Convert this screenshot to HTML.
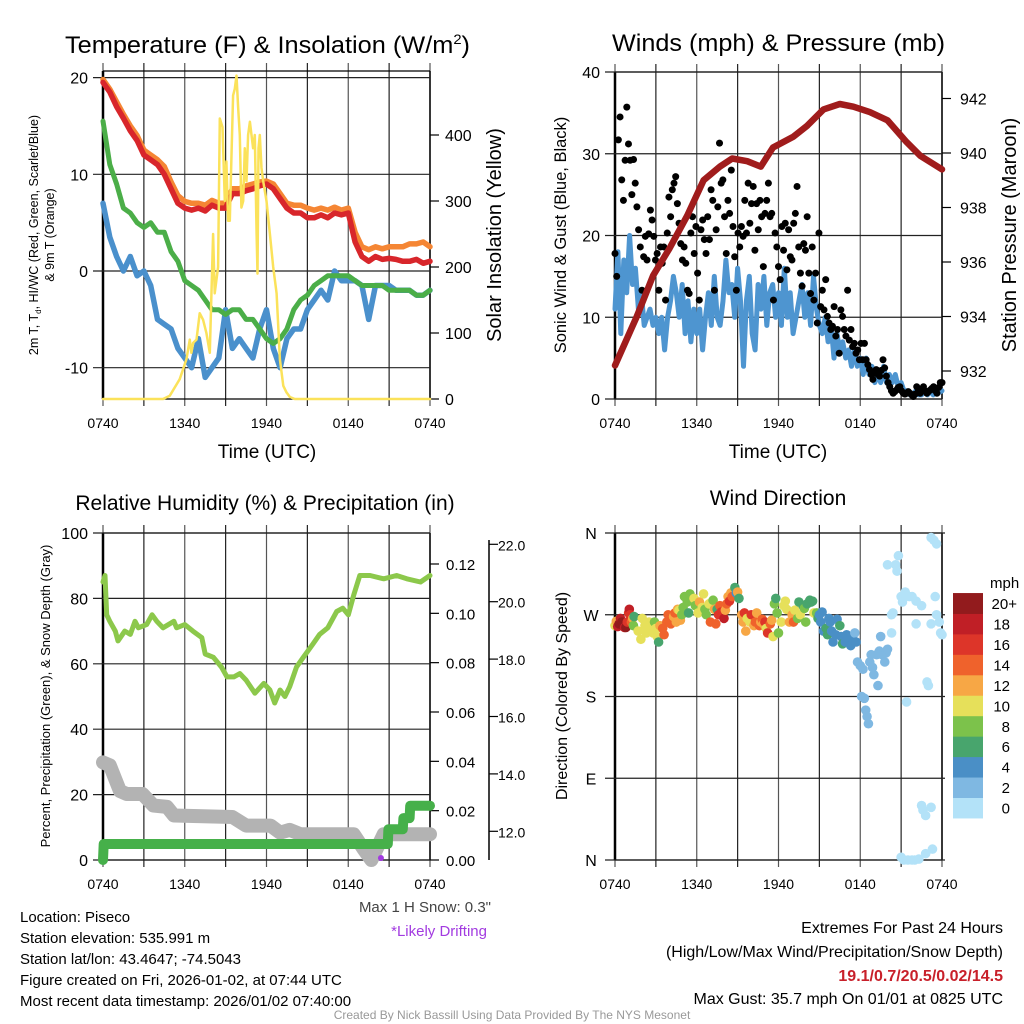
<!DOCTYPE html>
<html><head><meta charset="utf-8"><style>
html,body{margin:0;padding:0;background:#fff}
svg{display:block;font-family:"Liberation Sans",sans-serif}
</style></head><body>
<svg id="chart" xmlns="http://www.w3.org/2000/svg" width="1024" height="1024" viewBox="0 0 1024 1024">
<rect width="1024" height="1024" fill="#fff"/>
<g id="layer"></g>
<text x="65" y="53" font-size="24" textLength="405" lengthAdjust="spacingAndGlyphs">Temperature (F) &amp; Insolation (W/m<tspan font-size="14" dy="-9">2</tspan><tspan dy="9">)</tspan></text>
<text x="612" y="51" font-size="24" textLength="333" lengthAdjust="spacingAndGlyphs">Winds (mph) &amp; Pressure (mb)</text>
<text x="265" y="510" font-size="21" text-anchor="middle">Relative Humidity (%) &amp; Precipitation (in)</text>
<text x="778" y="505" font-size="21" text-anchor="middle">Wind Direction</text>
<text x="267" y="458" font-size="19" text-anchor="middle">Time (UTC)</text>
<text x="778" y="458" font-size="19" text-anchor="middle">Time (UTC)</text>
<text transform="translate(38,235) rotate(-90)" font-size="12.5" text-anchor="middle">2m T, T<tspan font-size="8" dy="3">d</tspan><tspan dy="-3">, HI/WC (Red, Green, Scarlet/Blue)</tspan></text>
<text transform="translate(54,235) rotate(-90)" font-size="12.5" text-anchor="middle">&amp; 9m T (Orange)</text>
<text transform="translate(501,235) rotate(-90)" font-size="20" text-anchor="middle">Solar Insolation (Yellow)</text>
<text transform="translate(566,235) rotate(-90)" font-size="16.5" text-anchor="middle">Sonic Wind &amp; Gust (Blue, Black)</text>
<text transform="translate(1016,235) rotate(-90)" font-size="20" text-anchor="middle">Station Pressure (Maroon)</text>
<text transform="translate(50,696) rotate(-90)" font-size="13" text-anchor="middle">Percent, Precipitation (Green), &amp; Snow Depth (Gray)</text>
<text transform="translate(567,696) rotate(-90)" font-size="16" text-anchor="middle">Direction (Colored By Speed)</text>
<text x="990" y="588" font-size="15">mph</text>
<text x="491" y="912" font-size="15" fill="#444" text-anchor="end">Max 1 H Snow: 0.3"</text>
<text x="487" y="936" font-size="15" fill="#a23be0" text-anchor="end">*Likely Drifting</text>
<g font-size="15">
<text x="20" y="922">Location: Piseco</text>
<text x="20" y="943">Station elevation: 535.991 m</text>
<text x="20" y="964">Station lat/lon: 43.4647; -74.5043</text>
<text x="20" y="985">Figure created on Fri, 2026-01-02, at 07:44 UTC</text>
<text x="20" y="1006">Most recent data timestamp: 2026/01/02 07:40:00</text>
</g>
<g font-size="16" text-anchor="end">
<text x="1003" y="933">Extremes For Past 24 Hours</text>
<text x="1003" y="957">(High/Low/Max Wind/Precipitation/Snow Depth)</text>
<text x="1003" y="981" fill="#c8202a" font-weight="bold">19.1/0.7/20.5/0.02/14.5</text>
<text x="1003" y="1004">Max Gust: 35.7 mph On 01/01 at 0825 UTC</text>
</g>
<text x="512" y="1019" font-size="12" fill="#999" text-anchor="middle">Created By Nick Bassill Using Data Provided By The NYS Mesonet</text>
</svg>
<script>
// ===== Panel 1: temperature (values every 30 min from 0740) =====
const tempRed = [19.5,18.5,17,15.8,14.5,13.5,12,11.5,11,10,8.5,7,6.5,6.3,6.5,6.2,6.8,6.5,6.5,8,8,8.3,8.5,8.8,9,8.5,7.5,6.5,6,6,5.5,5.5,5.8,5.5,6,5.8,6,3,1.5,1,1.5,1.2,1.3,1.2,1,1,1.2,0.8,1];
const temp9m = [19.8,18.8,17.5,16.2,15,14,12.5,12,11.5,10.8,9.2,7.8,7.2,7,7,6.8,7.3,7,7,8.5,8.5,8.8,9,9.2,9.3,9,8,7,6.8,6.8,6.5,6.3,6.5,6.3,6.6,6.3,6.5,4,2.5,2.2,2.5,2.3,2.5,2.5,2.5,2.8,2.8,3,2.5];
const dewBlue = [7,3.5,1.5,0,1.5,-0.5,0,-1.5,-5,-5.5,-6,-8,-9,-10,-7,-11,-10,-9,-4,-8,-7,-8,-9,-6,-4,-8,-10,-7,-6,-6,-4,-3,-2,-3,0,-1,-1,-1,-1.5,-5,-1.5,-1.5,-1.5,-2,-2,-2,-2.5,-2.5,-2];
const hiwcGreen = [15.5,11,9,6.5,6,5,4.5,5,4,4,2,1,-1,-1.5,-2,-3,-4,-4,-4.5,-4,-4,-5,-5,-6,-7,-7.5,-7,-6,-4,-3,-2.5,-1.5,-1,-0.5,-0.5,-0.5,-0.5,-1,-1.5,-1.5,-1.5,-1.5,-2,-2,-2,-2,-2.5,-2.5,-2];
const solarHours = [0,4.41,4.9,5.63,6.12,6.37,6.49,6.61,6.86,7.1,7.35,7.59,7.84,8.08,8.2,8.45,8.57,8.77,8.94,9.06,9.18,9.31,9.43,9.55,9.67,9.8,9.92,10.04,10.16,10.29,10.41,10.53,10.65,10.78,10.9,11.02,11.14,11.27,11.34,11.41,11.51,11.63,11.76,12.0,12.25,12.49,12.74,12.98,13.23,13.47,13.72,14.08,24];
const solarValues = [0,0,5,30,60,90,70,85,90,130,120,100,70,250,160,200,425,412,300,360,270,270,370,460,470,490,440,400,290,300,380,330,400,420,400,380,400,250,190,380,400,350,330,300,250,200,160,60,20,10,3,0,0];
const tempTicks = [20,10,0,-10];
const solarTicks = [0,100,200,300,400];
const timeLabels = ['0740','1340','1940','0140','0740'];
// ===== Panel 2: winds =====
const windSonic = [11,18,8,17,13,20,14,16,11,13,9,10,11,9,10,8,10,6,10,12,15,13,10,14,8,12,7,11,8,11,6,10,13,9,15,10,9,12,17,13,14,10,16,12,4,12,15,8,6,14,11,15,9,13,14,10,13,9,16,10,13,8,10,12,14,10,13,9,15,11,9,8,10,7,9,5,8,6,7,5,6,4,6,4,5,3,5,3,4,2,3,2,4,2,3,2,3,1.5,2,1,1,0.5,0.5,1,0.5,0.5,1,0.5,1,0.5,1,0.8,1];
const windGust = [17.8,15,31.7,34.5,26.8,24.3,29.2,35.7,31.2,29.2,25,29.3,26.4,23.5,20.7,18.6,13.3,17.4,19.9,17,20.2,23.1,21.9,19.9,17,17.8,13.3,18.6,16.6,18.6,12.1,20.3,24.7,22.3,25.6,26.4,27.2,23.9,21.5,19,17,18.6,16.6,13.3,12.9,20.3,22.3,17.8,21.1,15.4,12.1,20.7,21.9,19.5,17.8,22.3,19.5,25.6,24.3,13.3,20.7,23.5,31.3,26.4,26.8,22.3,17.8,24.3,22.7,28,21.1,17.4,13.3,20.3,18.6,21.1,19.9,24.3,20.3,26.4,21.5,23.9,26,18.2,23.9,20.7,24.3,22.3,16.2,22.7,24.3,26.4,22.3,22.7,12.1,20.3,18.6,16.2,14.6,21.1,18.2,21.5,15.8,20.7,17.4,17,21.5,22.7,26,18.6,15.4,13.8,19,18.2,22.3,15.4,12.9,18.6,12.1,15.4,9.3,20.3,11.3,13.3,10.9,14.6,10.1,9.3,8.5,8.9,11.3,7.7,8.5,5.6,10.9,10.1,8.5,7.7,13.3,7.2,8.5,6.4,6.8,5.6,6,4.8,6.8,4.8,6.8,4.8,4.2,3.6,3.0,2.4,3.2,3.6,3.0,2.8,3.5,4.8,3.8,2.8,2.0,1.5,1.0,0.7,0.9,1.1,1.4,1.5,1.0,0.7,0.6,0.7,0.9,0.7,0.5,0.3,0.6,1.5,1.0,0.7,1.2,1.5,1.0,0.7,0.9,1.1,1.3,1.5,1.0,0.7,1.4,2,2];
const pressHours = [0,1.6,2.8,4,5.3,6.5,7.7,8.6,9.7,10.7,11.6,13.1,14.1,15.3,16.5,17.5,18.7,20,21.4,22.4,24];
const pressValues = [932.2,934,935.5,936.5,937.7,939,939.5,939.8,939.7,939.5,940.2,940.6,941,941.6,941.8,941.7,941.5,941.2,940.4,939.9,939.4];
const windTicks = [0,10,20,30,40];
const pressTicks = [932,934,936,938,940,942];
// ===== Panel 3: humidity / precip / snow =====
const rhHours = [0,0.15,0.27,0.5,0.9,1.1,1.6,2,2.35,2.6,3.2,3.6,3.95,4.4,5.2,5.4,6,6.6,7.25,7.5,8.1,8.7,9.1,9.6,10.05,10.5,11.15,11.8,12.25,12.6,13,13.35,13.7,14.2,14.7,15.4,15.9,16.5,17.15,17.6,18,18.4,18.85,19.6,20.6,21.55,22.3,23.3,24];
const rhValues = [85,87,75,73,70,67,70,69,73,71,72,75,73,71,73,71,72,70,68,63,62,59,56,56,57,55,51,54,52,48,52,50,53,59,62,66,69,71,76,77,75,81,87,87,86,87,86,85,87];
const precipHours = [0,0.05,20.9,20.95,22,22.05,22.5,22.55,24];
const precipValues = [0,0.0065,0.0065,0.0125,0.0125,0.017,0.017,0.022,0.022];
const snowHours = [0,0.5,1.25,1.75,2.9,3.7,4.7,5.2,9.5,10.5,12.3,13,13.7,14.5,18.4,19.1,19.7,20.2,20.6,24];
const snowValues = [14.4,14.3,13.4,13.3,13.3,12.9,12.85,12.55,12.5,12.2,12.2,11.95,12.05,11.9,11.9,11.4,11.0,11.5,11.9,11.9];
const pctTicks = [0,20,40,60,80,100];
const precipTicks = [0,0.02,0.04,0.06,0.08,0.10,0.12];
const snowTicks = [12,14,16,18,20,22];
// ===== Panel 4: wind direction =====
const dirHours = [0,0.1,0.2,0.3,0.4,0.5,0.6,0.7,0.8,0.9,1,1.05,1.1,1.2,1.3,1.35,1.4,1.7,1.9,2,2.2,2.3,2.5,2.6,2.8,2.9,3,3.1,3.2,3.3,3.5,3.6,3.8,3.9,4,4.1,4.3,4.4,4.5,4.6,4.7,4.8,4.9,5,5.1,5.3,5.5,5.4,5.8,5.9,6.1,6.2,6.4,6.5,6.6,6.7,6.9,7,7.2,7.3,7.4,7.5,7.6,7.7,7.8,7.9,8,8.1,8.2,8.3,8.4,8.5,8.6,8.8,8.9,9,9.1,9.3,9.4,9.5,9.6,9.7,9.9,10,10.2,10.3,10.4,10.6,10.7,10.8,10.9,11,11.1,11.2,11.4,11.5,11.6,11.7,11.8,11.9,12,12.2,12.4,12.5,12.6,12.8,13,13.1,13.2,13.4,13.5,13.6,13.8,13.9,14,14.1,14.3,14.4,14.5,14.6,14.8,14.9,15,15.1,15.2,15.3,15.5,15.6,15.7,15.8,15.9,16,16.2,16.3,16.5,16.6,16.7,16.9,17,17.2,17.3,17.5,17.6,17.7,17.8,18,18.2,18.1,18.3,18.4,18.5,18.6,18.7,18.8,18.9,19,19.2,19.3,19.4,19.5,19.6,19.8,19.9,20,20.3,20.3,20.4,20,20.6,20.7,20.8,21,21.1,21.4,21.3,21.6,21.8,22.1,22.1,22.5,22.9,23,23.2,23.5,23.6,23.8,23.9,24,23.2,23.4,23.6,22.5,22.6,22.8,23.2,21,21.2,21.5,21.8,22,22.3,22.8,23.3];
const dirValues = [258,263,257,260,266,262,258,256,256,262,272,276,270,262,266,258,268,252,243,266,258,250,262,255,250,262,255,246,240,258,255,248,262,270,266,260,268,272,262,276,275,264,270,278,290,284,293,272,288,280,272,284,278,293,276,270,282,262,286,276,260,276,270,280,273,269,266,275,282,290,285,294,290,300,294,295,288,270,262,272,252,266,262,270,258,262,272,258,262,265,260,262,255,250,260,264,246,282,288,272,250,262,280,285,276,262,270,262,275,266,284,270,280,277,262,282,286,284,285,272,272,266,270,262,273,252,255,248,266,262,252,240,248,265,258,246,238,240,248,244,236,242,250,240,218,214,210,180,178,165,158,150,218,226,212,204,226,192,230,246,226,218,228,232,250,270,272,325,325,318,335,290,284,174,295,290,290,260,285,280,196,192,260,290,270,262,250,248,355,352,348,60,55,49,58,3,0,0,0,0,1,7,12];
const dirSpeeds = [10,12,18,20,18,20,20,19,20,17,17,18,16,14,12,8,7,10,10,10,10,10,10,10,10,9,11,10,6,12,14,15,14,15,14,14,13,14,12,12,11,12,9,9,8,9,8,7,10,9,10,12,11,10,8,8,11,14,9,12,15,7,16,14,17,16,18,12,14,13,17,12,14,6,4,12,7,13,12,16,12,10,11,16,12,14,12,15,13,15,13,16,10,17,14,12,10,8,7,8,8,10,10,11,10,12,12,15,11,8,6,10,7,8,8,6,7,6,6,10,8,6,4,5,5,4,6,6,4,4,4,4,4,4,6,4,6,4,4,4,4,4,3,4,3,3,3,3,3,3,3,3,3,3,3,3,3,3,3,3,3,3,3,3,1,1,1,1,1,1,1,1,1,1,1,1,1,1,1,1,1,1,1,1,1,1,1,1,1,1,1,1,1,1,1,1,1,1,1,1,1,1,1,1,1];
const dirLabels = ['N','E','S','W','N'];
const speedBinLabels = ['0','2','4','6','8','10','12','14','16','18','20+'];
const speedColors = ['#b3e2f8','#7fb8e2','#4a8fc6','#48a56d','#7cc24b','#e6e05a','#f7a745','#ef622c','#dd3529','#c01f26','#921b1d'];

const NS = 'http://www.w3.org/2000/svg';
const layer = document.getElementById('layer');
function mk(tag, attrs, parent){
  const e = document.createElementNS(NS, tag);
  for (const k in attrs) e.setAttribute(k, attrs[k]);
  (parent || layer).appendChild(e);
  return e;
}
function txt(x, y, s, size, anchor, parent){
  const t = mk('text', {x:x, y:y, 'font-size':size, 'text-anchor':anchor}, parent);
  t.textContent = s;
  return t;
}
const W = 327;
function xAt(x0, h){ return x0 + h * W / 24; }
const p1 = {x0:103, yTemp: v => 271 - v * 9.67, ySolar: v => 399 - v * 0.66, top:71, bot:399, lab:29};
const p2 = {x0:615, yWind: v => 399 - v * 8.175, yPress: v => 371 - (v - 932) * 27.25, top:72, bot:399, lab:29};
const p3 = {x0:103, yPct: v => 860 - v * 3.27, yPrecip: v => 860 - v * 2466.7, ySnow: v => 860 - (v - 11) * 28.7, top:533, bot:860, lab:29};
const p4 = {x0:615, yDir: v => 860 - v * 0.9083, top:533, bot:860, lab:29};

function frame(p, name){
  const g = mk('g', {});
  
  
  for (let i = 0; i <= 8; i++) {
    const x = p.x0 + i * W / 8;
    const l = mk('line', {x1:x, x2:x, y1:p.top - 8, y2:p.bot + 7, stroke: i % 2 ? '#222' : '#555', 'stroke-width':1.2}, g);
    
    
  }
  const sp = mk('line', {x1:p.x0, x2:p.x0, y1:p.top, y2:p.bot, stroke:'#000', 'stroke-width':2.5}, g);
  
  
  const rs = mk('line', {x1:p.x0 + W, x2:p.x0 + W, y1:p.top, y2:p.bot, stroke:'#000', 'stroke-width':1.5}, g);
  
  
  const tp = mk('line', {x1:p.x0, x2:p.x0 + W, y1:p.top, y2:p.top, stroke:'#000', 'stroke-width':1.3}, g);
  
  
  const bt = mk('line', {x1:p.x0, x2:p.x0 + W, y1:p.bot, y2:p.bot, stroke:'#000', 'stroke-width':1.3}, g);
  
  
  timeLabels.forEach((s, i) => {
    const t = txt(p.x0 + i * W / 4, p.bot + p.lab, s, 14, 'middle');
    
    
  });
}
function hgrid(p, ticks, yf, name, labelFmt){
  ticks.forEach(v => {
    const y = yf(v);
    const l = mk('line', {x1:p.x0 - 10, x2:p.x0 + W, y1:y, y2:y, stroke:'#222', 'stroke-width':1.2});
    
    
    const t = txt(p.x0 - 15, y + 6, labelFmt ? labelFmt(v) : String(v), 16, 'end');
    
    
  });
}
function rightAxis(xAxis, ticks, yf, name, fmt, size, lx){
  ticks.forEach(v => {
    const y = yf(v);
    const l = mk('line', {x1:xAxis, x2:xAxis + 9, y1:y, y2:y, stroke:'#000', 'stroke-width':1.2});
    
    
    const t = txt(lx, y + 6, fmt(v), size, 'start');
    
    
  });
}
function pathFrom(xs, ys){
  return xs.map((x, i) => (i ? 'L' : 'M') + x.toFixed(1) + ',' + ys[i].toFixed(1)).join('');
}
function series(hours, vals, p, yf, color, width, name){
  const xs = hours.map(h => xAt(p.x0, h));
  const ys = vals.map(yf);
  const e = mk('path', {d:pathFrom(xs, ys), fill:'none', stroke:color, 'stroke-width':width, 'stroke-linejoin':'round', 'stroke-linecap':'round'});
  
  
  return e;
}
function evenHours(arr){ return arr.map((_, i) => i * 24 / (arr.length - 1)); }

// ---- Panel 1 ----
frame(p1, 'temp');
hgrid(p1, tempTicks, p1.yTemp, 'temp');
rightAxis(430, solarTicks, p1.ySolar, 'solar-axis', v => String(v), 16, 445);
series(evenHours(temp9m), temp9m, p1, p1.yTemp, '#f58634', 5.5, 'temp-9m-line');
series(evenHours(tempRed), tempRed, p1, p1.yTemp, '#d8262b', 5.5, 'temp-2m-line');
series(evenHours(dewBlue), dewBlue, p1, p1.yTemp, '#4a90cc', 5.5, 'dewpoint-line');
series(evenHours(hiwcGreen), hiwcGreen, p1, p1.yTemp, '#4bae48', 5, 'heat-index-windchill-line');
series(solarHours, solarValues, p1, p1.ySolar, '#fbe25a', 2.5, 'solar-insolation-line');

// ---- Panel 2 ----
frame(p2, 'wind');
hgrid(p2, windTicks, p2.yWind, 'wind');
rightAxis(942, pressTicks, p2.yPress, 'pressure-axis', v => String(v), 16, 960);
series(evenHours(windSonic), windSonic, p2, p2.yWind, '#4e95d0', 5, 'sonic-wind-line');
evenHours(windGust).forEach((h, i) => {
  const c = mk('circle', {cx:xAt(p2.x0, h), cy:p2.yWind(windGust[i]), r:3.5, fill:'#000'});
  
  
});
series(pressHours, pressValues, p2, p2.yPress, '#a01c1c', 6.5, 'pressure-line');

// ---- Panel 3 ----
frame(p3, 'humidity');
hgrid(p3, pctTicks, p3.yPct, 'humidity');
rightAxis(430, precipTicks, p3.yPrecip, 'precip-axis', v => v.toFixed(2), 15, 446);
const sa = mk('line', {x1:489, x2:489, y1:540, y2:860, stroke:'#000', 'stroke-width':1.5});


rightAxis(489, snowTicks, p3.ySnow, 'snow-axis', v => v.toFixed(1), 14, 498);
series(snowHours, snowValues, p3, p3.ySnow, '#b3b3b3', 14, 'snow-depth-line');
series(rhHours, rhValues, p3, p3.yPct, '#8cc84b', 5, 'relative-humidity-line');
series(precipHours, precipValues, p3, p3.yPrecip, '#46b04a', 10, 'precipitation-line');
const drift = mk('circle', {cx:xAt(p3.x0, 20.4), cy:858, r:3, fill:'#a23be0'});



// ---- Panel 4 ----
frame(p4, 'direction');
dirLabels.forEach((s, i) => {
  const y = p4.yDir(i * 90);
  const l = mk('line', {x1:p4.x0 - 10, x2:p4.x0 + W + 3, y1:y, y2:y, stroke:'#222', 'stroke-width':1.2});
  
  
  const t = txt(p4.x0 - 24, y + 6, s, 16, 'middle');
  
  
});
dirHours.forEach((h, i) => {
  const bin = Math.min(10, Math.floor(dirSpeeds[i] / 2));
  const c = mk('circle', {cx:xAt(p4.x0, h), cy:p4.yDir(dirValues[i]), r:4.8, fill:speedColors[bin]});
  
  
});
speedBinLabels.forEach((s, i) => {
  const y0 = 818 - (i + 1) * 20.45;
  const r = mk('rect', {x:953, y:y0, width:30, height:20.9, fill:speedColors[i]});
  
  
  const t = txt(i === 10 ? 1017 : 1010, y0 + 16, s, 15, 'end');
  
  
});
</script>
</body></html>
